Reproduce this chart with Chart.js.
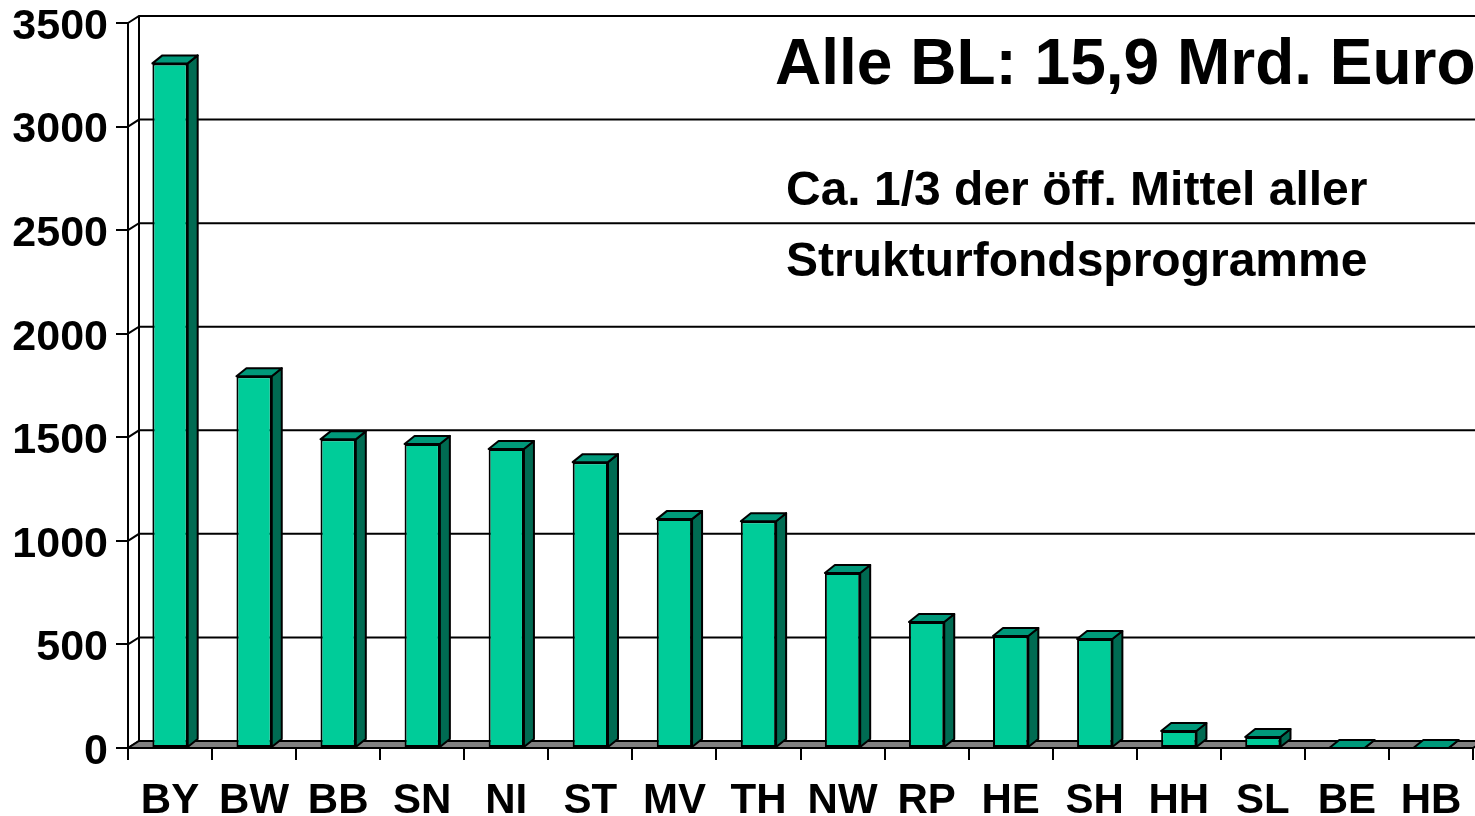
<!DOCTYPE html>
<html>
<head>
<meta charset="utf-8">
<script src="https://cdn.jsdelivr.net/npm/chart.js@4.4.1/dist/chart.umd.min.js"></script>
<style>
	html, body { margin: 0; padding: 0; background: #fff; }
	#chart-parent { width: 1475px; height: 816px; }
</style>
</head>
<body>
<div id="chart-parent"><canvas id="chart" width="1475" height="816"></canvas></div>
<script>
var categories = ['BY', 'BW', 'BB', 'SN', 'NI', 'ST', 'MV', 'TH', 'NW', 'RP', 'HE', 'SH', 'HH', 'SL', 'BE', 'HB'];
var amounts = [3305, 1795, 1490, 1468, 1443, 1380, 1105, 1095, 845, 608, 541, 526, 82, 53, 0, 0];
var yMin = 0;
var yMax = 3500;
var yStep = 500;
var titleText = 'Alle BL: 15,9 Mrd. Euro';
var noteLines = ['Ca. 1/3 der öff. Mittel aller', 'Strukturfondsprogramme'];

var fontFamily = '"Liberation Sans", Arial, Helvetica, sans-serif';
var frontColor = '#00CC99';
var topColor = '#00997A';
var sideColor = '#006B52';
var floorColor = '#808080';

// depth of the back wall / floor and of the bars
var wallDX = 11, wallDY = 7;
var barDX = 10, barDY = 8;

function drawPoly(ctx, pts, fill) {
	ctx.beginPath();
	ctx.moveTo(pts[0][0], pts[0][1]);
	for (var i = 1; i < pts.length; i++)
		ctx.lineTo(pts[i][0], pts[i][1]);
	ctx.closePath();
	if (fill) {
		ctx.fillStyle = fill;
		ctx.fill();
	}
	ctx.stroke();
}

var wallPlugin = {
	id: 'wall3d',
	beforeDatasetsDraw: function(chart) {
		var ctx = chart.ctx;
		var area = chart.chartArea;
		var yScale = chart.scales.y;
		ctx.save();
		ctx.strokeStyle = '#000';
		ctx.lineWidth = 2;
		ctx.lineJoin = 'miter';

		// back wall + side wall grid
		yScale.ticks.forEach(function(t) {
			var y = yScale.getPixelForValue(t.value);
			ctx.beginPath();
			ctx.moveTo(area.left, y);
			ctx.lineTo(area.left + wallDX, y - wallDY);
			ctx.lineTo(area.right + wallDX, y - wallDY);
			ctx.stroke();
		});
		ctx.beginPath();
		ctx.moveTo(area.left + wallDX, area.top - wallDY);
		ctx.lineTo(area.left + wallDX, area.bottom - wallDY);
		ctx.stroke();

		// floor
		drawPoly(ctx, [
			[area.left, area.bottom],
			[area.right, area.bottom],
			[area.right + wallDX, area.bottom - wallDY],
			[area.left + wallDX, area.bottom - wallDY]
		], floorColor);
		ctx.restore();
	},
	afterDatasetsDraw: function(chart) {
		var ctx = chart.ctx;
		var meta = chart.getDatasetMeta(0);
		ctx.save();
		ctx.strokeStyle = '#000';
		ctx.lineWidth = 2;
		ctx.lineJoin = 'round';
		meta.data.forEach(function(bar) {
			var p = bar.getProps(['x', 'y', 'base', 'width'], true);
			var l = p.x - p.width / 2;
			var r = p.x + p.width / 2;
			drawPoly(ctx, [[r, p.y], [r + barDX, p.y - barDY], [r + barDX, p.base - barDY], [r, p.base]], sideColor);
			drawPoly(ctx, [[l, p.y], [l + barDX, p.y - barDY], [r + barDX, p.y - barDY], [r, p.y]], topColor);
		});
		ctx.restore();
	},
	afterDraw: function(chart) {
		var ctx = chart.ctx;
		ctx.save();
		ctx.fillStyle = '#000';
		ctx.textAlign = 'left';
		ctx.textBaseline = 'alphabetic';
		ctx.font = 'bold 64px ' + fontFamily;
		ctx.fillText(titleText, 775, 84);
		ctx.font = 'bold 48px ' + fontFamily;
		ctx.fillText(noteLines[0], 786, 205);
		ctx.fillText(noteLines[1], 786, 276);
		ctx.restore();
	}
};

function createChart() {
	new Chart(document.getElementById('chart'), {
		type: 'bar',
		data: {
			labels: categories,
			datasets: [{
				data: amounts,
				backgroundColor: frontColor,
				borderColor: '#000',
				borderWidth: 2,
				borderSkipped: false,
				barPercentage: 0.42,
				categoryPercentage: 1.0
			}]
		},
		options: {
			responsive: false,
			animation: false,
			layout: { padding: { top: 23, right: 2, left: 0, bottom: 0 } },
			plugins: {
				legend: { display: false },
				tooltip: { enabled: false },
				title: { display: false }
			},
			scales: {
				x: {
					grid: { drawOnChartArea: false, drawTicks: true, tickLength: 12, color: '#000', lineWidth: 2, offset: true },
					border: { display: true, color: '#000', width: 2 },
					ticks: {
						color: '#000',
						autoSkip: false,
						maxRotation: 0,
						padding: 16,
						font: { family: fontFamily, size: 42, weight: 'bold' }
					},
					afterFit: function(scale) {
						scale.height = 68;
						scale.paddingLeft = 0;
						scale.paddingRight = 0;
					}
				},
				y: {
					min: yMin,
					max: yMax,
					grid: { drawOnChartArea: false, drawTicks: true, tickLength: 12, color: '#000', lineWidth: 2 },
					border: { display: true, color: '#000', width: 2 },
					ticks: {
						stepSize: yStep,
						color: '#000',
						padding: 8,
						labelOffset: 4,
						font: { family: fontFamily, size: 43, weight: 'bold' },
						callback: function(value) { return String(value); }
					},
					afterFit: function(scale) {
						scale.width = 128;
						scale.paddingTop = 0;
						scale.paddingBottom = 0;
					}
				}
			}
		},
		plugins: [wallPlugin]
	});
}

createChart();
</script>
</body>
</html>
